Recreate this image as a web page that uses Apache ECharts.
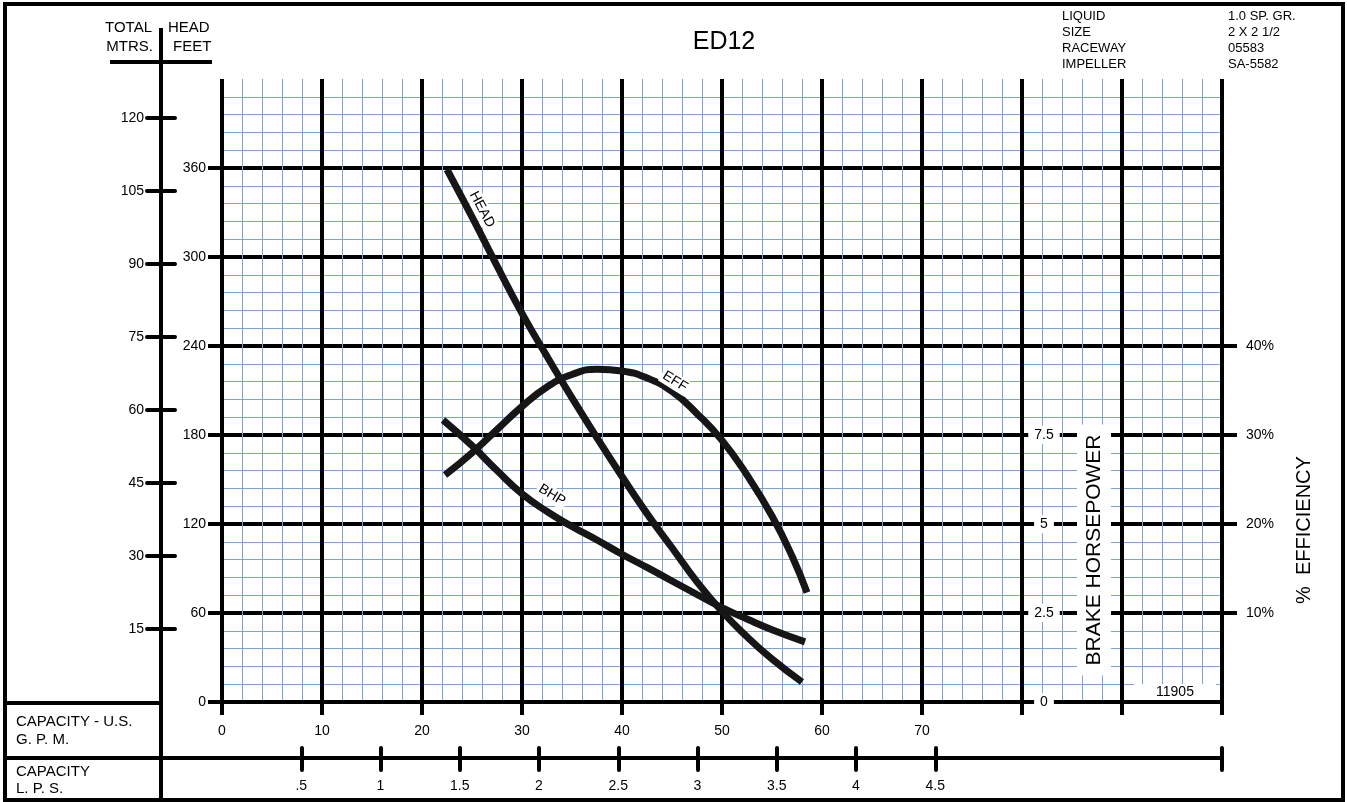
<!DOCTYPE html>
<html>
<head>
<meta charset="utf-8">
<title>ED12</title>
<script src="https://cdn.jsdelivr.net/npm/echarts@6.0.0/dist/echarts.min.js"></script>
<style>
    html, body { margin: 0; padding: 0; background: #fff; }
    #chart { width: 1347px; height: 802px; }
</style>
</head>
<body>
<div id="chart"></div>
<script>
// axis ticks
var gpmLabels = [0, 10, 20, 30, 40, 50, 60, 70];
var lpsTicks = [0.5, 1, 1.5, 2, 2.5, 3, 3.5, 4, 4.5];
var feetTicks = [0, 60, 120, 180, 240, 300, 360];
var mtrTicks = [15, 30, 45, 60, 75, 90, 105, 120];
var bhpTicks = [0, 2.5, 5, 7.5];
var effTicks = [10, 20, 30, 40];

// curves
var headGpm  = [22.5, 25, 27.5, 30, 32.5, 35, 37.5, 40, 42.5, 45, 47.5, 50, 52.5, 55, 58];
var headFeet = [359, 327, 294, 262, 233, 205, 178, 152, 127, 104, 81, 61, 44, 29, 13.5];

var effGpm = [22.3, 25, 27.5, 30, 32.5, 35, 37.5, 40, 42.5, 45, 47.5, 50, 52.5, 55, 57, 58.5];
var effPct = [25.5, 28, 30.6, 33.2, 35.4, 36.8, 37.4, 37.2, 36.4, 34.9, 32.4, 29.4, 25.5, 20.9, 16.4, 12.3];

var bhpGpm = [22.1, 25, 27.5, 30, 32.5, 35, 37.5, 40, 42.5, 45, 47.5, 50, 52.5, 55, 58.3];
var bhpHp  = [7.92, 7.2, 6.5, 5.85, 5.35, 4.93, 4.55, 4.15, 3.78, 3.4, 3.02, 2.65, 2.33, 2.03, 1.69];

var FT_MAX = 420;
var M_MAX = FT_MAX / 3.28084;
var HP_MAX = FT_MAX / 60 * 2.5;   // 2.5 hp per 60 ft division
var EFF_MAX = FT_MAX / 60 * 10;   // 10 % per 60 ft division
var LPS_MAX = 100 * 0.0630902;

var FONT = '"Liberation Sans", Arial, sans-serif';
var BLUE = '#7ba2d9';

function pts(xs, ys) {
    return xs.map(function (x, i) { return [x, ys[i]]; });
}

function curve(name, yIdx, data) {
    return {
        name: name,
        type: 'line',
        xAxisIndex: 0,
        yAxisIndex: yIdx,
        data: data,
        smooth: true,
        symbol: 'none',
        lineStyle: { color: '#161616', width: 7 },
        z: 3
    };
}

function curveLabel(text, yIdx, pos, rot) {
    return {
        type: 'scatter',
        xAxisIndex: 0,
        yAxisIndex: yIdx,
        data: [pos],
        symbolSize: 0,
        itemStyle: { color: '#000', opacity: 1 },
        label: {
            show: true,
            position: 'inside',
            formatter: text,
            rotate: rot,
            color: '#000',
            opacity: 1,
            textBorderWidth: 0,
            fontSize: 14,
            fontFamily: FONT,
            backgroundColor: '#fff',
            padding: [1, 2]
        },
        z: 5
    };
}

function txt(text, x, y, size, align, extra) {
    var el = {
        type: 'text',
        x: x,
        y: y,
        z: 100,
        style: {
            text: text,
            fill: '#000',
            fontSize: size,
            fontFamily: FONT,
            align: align || 'left',
            verticalAlign: 'middle'
        }
    };
    if (extra) {
        for (var k in extra) el.style[k] = extra[k];
    }
    return el;
}

function line(x1, y1, x2, y2) {
    return {
        type: 'line',
        z: 50,
        shape: { x1: x1, y1: y1, x2: x2, y2: y2 },
        style: { stroke: '#000', lineWidth: 4 }
    };
}

var chart = echarts.init(document.getElementById('chart'));

chart.setOption({
    animation: false,
    backgroundColor: '#fff',
    textStyle: { fontFamily: FONT, color: '#000' },
    grid: {
        left: 222, right: 125, top: 79, bottom: 100,
        containLabel: false,
        outerBoundsMode: 'none'
    },
    xAxis: [
        {   // GPM
            type: 'value', position: 'bottom',
            min: 0, max: 100, interval: 10,
            axisLine: { show: true, onZero: false, lineStyle: { color: '#000', width: 4 } },
            axisTick: { show: true, length: 13, lineStyle: { color: '#000', width: 4 } },
            axisLabel: {
                customValues: gpmLabels, margin: 22,
                color: '#000', fontSize: 14, fontFamily: FONT
            },
            splitLine: { show: true, lineStyle: { color: '#000', width: 4 } },
            minorTick: { show: false, splitNumber: 5 },
            minorSplitLine: { show: true, lineStyle: { color: BLUE, width: 1 } }
        },
        {   // L.P.S.
            type: 'value', position: 'bottom', offset: 56,
            min: 0, max: LPS_MAX,
            axisLine: { show: true, onZero: false, lineStyle: { color: '#000', width: 4 } },
            axisTick: {
                show: true, customValues: lpsTicks.concat([LPS_MAX]), length: 12,
                lineStyle: { color: '#000', width: 4, cap: 'round' }
            },
            axisLabel: {
                customValues: lpsTicks, margin: 21,
                color: '#000', fontSize: 14, fontFamily: FONT,
                formatter: function (v) { return String(v).replace(/^0\./, '.'); }
            },
            splitLine: { show: false }
        },
        {   // L.P.S. ticks above the line
            type: 'value', position: 'bottom', offset: 56,
            min: 0, max: LPS_MAX,
            axisLine: { show: false, onZero: false },
            axisTick: {
                show: true, inside: true, customValues: lpsTicks.concat([LPS_MAX]), length: 10,
                lineStyle: { color: '#000', width: 4, cap: 'round' }
            },
            axisLabel: { show: false },
            splitLine: { show: false }
        }
    ],
    yAxis: [
        {   // head, feet
            type: 'value', position: 'left',
            min: 0, max: FT_MAX, interval: 60,
            axisLine: { show: false, onZero: false },
            axisTick: { show: true, customValues: feetTicks, length: 14, lineStyle: { color: '#000', width: 4 } },
            axisLabel: {
                customValues: feetTicks, margin: 16,
                color: '#000', fontSize: 14, fontFamily: FONT
            },
            splitLine: { show: true, lineStyle: { color: '#000', width: 4 } },
            minorTick: { show: false, splitNumber: 5 },
            minorSplitLine: { show: true, lineStyle: { color: BLUE, width: 1 } }
        },
        {   // head, metres
            type: 'value', position: 'left', offset: 61,
            min: 0, max: M_MAX,
            axisLine: { show: false, onZero: false },
            axisTick: {
                show: true, customValues: mtrTicks, length: 14,
                lineStyle: { color: '#000', width: 4, cap: 'round' }
            },
            axisLabel: {
                customValues: mtrTicks, margin: 17,
                color: '#000', fontSize: 14, fontFamily: FONT
            },
            splitLine: { show: false }
        },
        {   // metres, ticks on the inner side
            type: 'value', position: 'left', offset: 61,
            min: 0, max: M_MAX,
            axisLine: { show: false, onZero: false },
            axisTick: {
                show: true, inside: true, customValues: mtrTicks, length: 14,
                lineStyle: { color: '#000', width: 4, cap: 'round' }
            },
            axisLabel: { show: false },
            splitLine: { show: false }
        },
        {   // brake horsepower
            type: 'value', position: 'right', offset: -200,
            min: 0, max: HP_MAX,
            z: 10,
            axisLine: { show: false, onZero: false },
            axisTick: { show: false },
            axisLabel: {
                customValues: bhpTicks, margin: 22, align: 'center',
                color: '#000', fontSize: 14, fontFamily: FONT,
                backgroundColor: '#fff', padding: [2, 6]
            },
            splitLine: { show: false }
        },
        {   // efficiency
            type: 'value', position: 'right',
            min: 0, max: EFF_MAX,
            axisLine: { show: false, onZero: false },
            axisTick: { show: true, customValues: effTicks, length: 15, lineStyle: { color: '#000', width: 4 } },
            axisLabel: {
                customValues: effTicks, margin: 24, formatter: '{value}%',
                color: '#000', fontSize: 14, fontFamily: FONT
            },
            splitLine: { show: false }
        }
    ],
    series: [
        curve('HEAD', 0, pts(headGpm, headFeet)),
        curve('EFF', 4, pts(effGpm, effPct)),
        curve('BHP', 3, pts(bhpGpm, bhpHp)),
        curveLabel('HEAD', 0, [26.0, 332], -62),
        curveLabel('EFF', 4, [45.3, 36.0], -32),
        curveLabel('BHP', 3, [33.0, 5.81], -31)
    ],
    graphic: [
        { type: 'rect', z: 50, shape: { x: 5, y: 4, width: 1338, height: 796 },
          style: { fill: null, stroke: '#000', lineWidth: 4 } },
        line(161, 28, 161, 800),
        line(110, 62, 212, 62),
        line(5, 703, 161, 703),
        line(5, 758, 222, 758),

        txt('TOTAL', 152, 28, 15, 'right'),
        txt('HEAD', 168, 28, 15, 'left'),
        txt('MTRS.', 153, 47, 15, 'right'),
        txt('FEET', 173, 47, 15, 'left'),

        txt('ED12', 724, 42, 25, 'center'),

        txt('LIQUID', 1062, 16, 13),
        txt('SIZE', 1062, 32, 13),
        txt('RACEWAY', 1062, 48, 13),
        txt('IMPELLER', 1062, 64, 13),
        txt('1.0 SP. GR.', 1228, 16, 13),
        txt('2 X 2 1/2', 1228, 32, 13),
        txt('05583', 1228, 48, 13),
        txt('SA-5582', 1228, 64, 13),

        txt('CAPACITY - U.S.', 16, 722, 15),
        txt('G. P. M.', 16, 740, 15),
        txt('CAPACITY', 16, 772, 15),
        txt('L. P. S.', 16, 789, 15),

        txt('11905', 1175, 692, 14, 'center', { backgroundColor: '#fff', padding: [1, 22] }),

        (function () {
            var t = txt('BRAKE HORSEPOWER', 1094, 550, 21, 'center',
                { backgroundColor: '#fff', padding: [7, 10, 6, 10] });
            t.rotation = Math.PI / 2;
            return t;
        })(),
        (function () {
            var t = txt('%  EFFICIENCY', 1304, 530, 20, 'center');
            t.rotation = Math.PI / 2;
            return t;
        })()
    ]
});
</script>
</body>
</html>
